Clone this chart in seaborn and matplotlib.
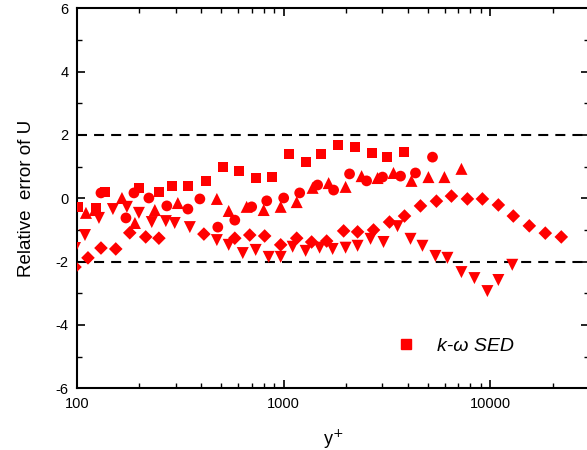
import numpy as np
import pandas as pd
import matplotlib
matplotlib.use("Agg")
import matplotlib.pyplot as plt
import seaborn as sns
from matplotlib.lines import Line2D
from matplotlib.ticker import LogLocator, FixedLocator, MultipleLocator, NullFormatter

# ---- data ----
sq_x = [101, 123.5, 136.5, 199, 249, 288, 344, 420, 507, 606, 732, 875, 1057, 1277, 1510, 1823, 2203, 2662, 3145, 3800]
sq_y = [-0.27, -0.31, 0.20, 0.33, 0.20, 0.39, 0.39, 0.55, 0.99, 0.86, 0.64, 0.67, 1.39, 1.15, 1.39, 1.68, 1.62, 1.43, 1.30, 1.46]

ci_x = [130.6, 172.5, 188.6, 222.7, 272, 344, 393, 480, 580, 700, 828, 1000, 1195, 1459, 1744, 2083, 2518, 3008, 3675, 4341, 5248]
ci_y = [0.17, -0.62, 0.17, 0.01, -0.24, -0.34, -0.02, -0.91, -0.69, -0.27, -0.08, 0.01, 0.17, 0.42, 0.26, 0.77, 0.55, 0.67, 0.70, 0.80, 1.30]

tu_x = [110.5, 122, 165, 190.6, 238, 307.5, 475, 542, 662, 800, 967, 1156, 1380, 1650, 1993, 2382, 2845, 3398, 4151, 5015, 5993, 7244]
tu_y = [-0.46, -0.37, 0.01, -0.78, -0.37, -0.15, -0.02, -0.40, -0.27, -0.37, -0.27, -0.12, 0.33, 0.48, 0.36, 0.70, 0.64, 0.80, 0.55, 0.67, 0.67, 0.93]

td_x = [97.8, 109.3, 127.7, 149.2, 174.4, 199.3, 230, 269, 297, 351.5, 475, 542, 634, 732, 846, 967, 1105, 1277, 1492, 1725, 1993,
        2278, 2632, 3041, 3554, 4108, 4692, 5421, 6197, 7244, 8371, 9672, 10930, 12760]
td_y = [-1.57, -1.16, -0.62, -0.34, -0.27, -0.46, -0.75, -0.72, -0.78, -0.91, -1.32, -1.47, -1.73, -1.63, -1.85, -1.85, -1.53, -1.66, -1.56, -1.60, -1.56,
        -1.50, -1.28, -1.38, -0.88, -1.28, -1.50, -1.82, -1.88, -2.33, -2.52, -2.93, -2.58, -2.10]

di_x = [97.8, 113, 130.6, 154, 180, 215, 249, 411, 580, 685, 809, 967, 1156, 1365, 1614, 1950, 2278, 2721, 3251, 3842, 4590, 5483,
        6480, 7740, 9150, 10930, 12910, 15430, 18440, 22030]
di_y = [-2.17, -1.88, -1.57, -1.60, -1.09, -1.22, -1.26, -1.13, -1.26, -1.16, -1.19, -1.47, -1.26, -1.38, -1.35, -1.03, -1.06, -1.00, -0.75, -0.56, -0.24, -0.09,
        0.07, -0.02, -0.02, -0.21, -0.56, -0.87, -1.10, -1.22]

ref_lines = [2, -2]
x_ticks = [100, 1000, 10000]
x_ticklabels = ["100", "1000", "10000"]
y_ticks = [-6, -4, -2, 0, 2, 4, 6]
y_ticklabels = ["-6", "-4", "-2", "0", "2", "4", "6"]
legend_label = "k-ω SED"

series = [
    (sq_x, sq_y, "s", 52),
    (ci_x, ci_y, "o", 60),
    (tu_x, tu_y, "^", 75),
    (td_x, td_y, "v", 75),
    (di_x, di_y, "D", 48),
]

sns.set_style("ticks")
plt.rcParams["font.family"] = ["Liberation Sans", "DejaVu Sans"]
plt.rcParams["axes.unicode_minus"] = False
plt.rcParams["text.color"] = "black"
plt.rcParams["axes.labelcolor"] = "black"

fig = plt.figure(figsize=(5.87, 4.5), dpi=100)
ax = fig.add_axes([77 / 587, (450 - 388.3) / 450, 512 / 587, (388.3 - 8.3) / 450])

for xs, ys, mk, s in series:
    df = pd.DataFrame({"x": xs, "y": ys})
    sns.scatterplot(data=df, x="x", y="y", marker=mk, s=s, color="#ff0000",
                    edgecolor="none", linewidth=0, ax=ax, legend=False, zorder=3)

for yv in ref_lines:
    ax.axhline(yv, color="black", lw=1.5, ls=(0, (4.8, 3.4)), zorder=2)

ax.set_xscale("log")
ax.set_xlim(100, 30000)
ax.set_ylim(-6, 6)
ax.xaxis.set_major_locator(FixedLocator(x_ticks))
ax.set_xticklabels(x_ticklabels)
ax.xaxis.set_minor_locator(LogLocator(base=10, subs=np.arange(2, 10)))
ax.xaxis.set_minor_formatter(NullFormatter())
ax.set_yticks(y_ticks)
ax.set_yticklabels(y_ticklabels)
ax.yaxis.set_minor_locator(MultipleLocator(1))

ax.tick_params(which="both", direction="in", top=True, right=True, labelsize=10.5,
               colors="black", labelcolor="black")
ax.tick_params(which="major", length=6, width=1.2, pad=6)
ax.tick_params(which="minor", length=3.5, width=1.0)
for sp in ax.spines.values():
    sp.set_linewidth(1.5)
    sp.set_color("black")

ax.set_xlabel("y$^{+}$", fontsize=13, labelpad=12, color="black")
ax.set_ylabel("Relative  error of U", fontsize=13.5, labelpad=15, color="black")

handle = Line2D([], [], marker="s", color="#ff0000", ls="", ms=7.5)
leg = ax.legend(handles=[handle], labels=[legend_label], frameon=False,
                loc="center left", bbox_to_anchor=(396 / 587, (450 - 346) / 450),
                bbox_transform=fig.transFigure, handlelength=1.0, handletextpad=1.1,
                borderpad=0, borderaxespad=0,
                prop={"style": "italic", "size": 14, "family": ["Liberation Sans", "DejaVu Sans"]})

fig.savefig("out.png", dpi=100)
